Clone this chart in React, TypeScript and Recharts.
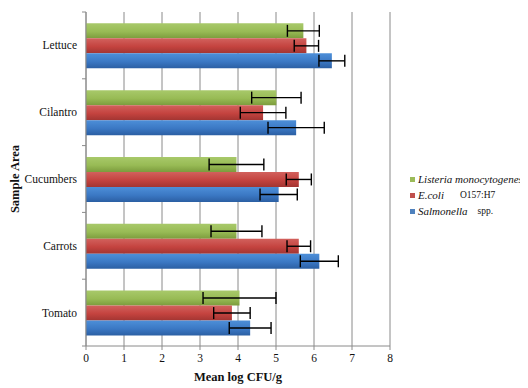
import React from 'react';
import { BarChart, Bar, XAxis, YAxis, CartesianGrid, ErrorBar, Legend } from 'recharts';

const categories = ['Lettuce', 'Cilantro', 'Cucumbers', 'Carrots', 'Tomato'];
const listeria = [5.72, 5.01, 3.96, 3.96, 4.04];
const listeriaErr = [0.42, 0.65, 0.72, 0.67, 0.96];
const ecoli = [5.8, 4.66, 5.6, 5.6, 3.84];
const ecoliErr = [0.32, 0.6, 0.33, 0.31, 0.48];
const salmonella = [6.47, 5.53, 5.07, 6.14, 4.32];
const salmonellaErr = [0.34, 0.74, 0.49, 0.5, 0.55];
const xTicks = [0, 1, 2, 3, 4, 5, 6, 7, 8];

const data = categories.map((c, i) => ({
  name: c,
  listeria: listeria[i],
  listeriaErr: listeriaErr[i],
  ecoli: ecoli[i],
  ecoliErr: ecoliErr[i],
  salmonella: salmonella[i],
  salmonellaErr: salmonellaErr[i],
}));

const FONT = 'Liberation Serif';
const GRAY = '#8a8a8a';

const YTick = (props: any) => {
  const { x, y, payload, index, visibleTicksCount } = props;
  const off = payload.offset || 0;
  const ax = x + 9;
  return (
    <g>
      <text x={x} y={y} dy="0.35em" textAnchor="end" style={{ fontFamily: FONT, fontSize: 11.5 }} fill="#111">
        {payload.value}
      </text>
      <line x1={ax - 4} x2={ax} y1={y - off} y2={y - off} stroke={GRAY} />
      {index === visibleTicksCount - 1 ? (
        <line x1={ax - 4} x2={ax} y1={y + off} y2={y + off} stroke={GRAY} />
      ) : null}
    </g>
  );
};

const LegendContent = () => {
  const row = (color: string, italic: string, rest: string, gap: number) => (
    <div style={{ display: 'flex', alignItems: 'center', height: 16, whiteSpace: 'nowrap' }}>
      <span style={{ width: 5, height: 5, background: color, display: 'inline-block', marginRight: 3 }} />
      <span style={{ fontStyle: 'italic', fontSize: 11 }}>{italic}</span>
      {rest ? <span style={{ fontSize: 9.5, marginLeft: gap }}>{rest}</span> : null}
    </div>
  );
  return (
    <div style={{ fontFamily: FONT, color: '#111' }}>
      {row('#9bbb59', 'Listeria monocytogenes', '', 0)}
      {row('#c0504d', 'E.coli', 'O157:H7', 16)}
      {row('#4f81bd', 'Salmonella', 'spp.', 10)}
    </div>
  );
};

export default function App() {
  return (
    <div style={{ width: 520, height: 380, fontFamily: FONT }}>
      <BarChart
        width={520}
        height={380}
        data={data}
        layout="vertical"
        margin={{ top: 4, right: 138, bottom: 0, left: 0 }}
        barCategoryGap="17%"
        barGap={0}
        style={{ fontFamily: FONT }}
      >
        <defs>
          <linearGradient id="gGreen" x1="0" y1="0" x2="0" y2="1">
            <stop offset="0%" stopColor="#a8c96a" />
            <stop offset="55%" stopColor="#98bb55" />
            <stop offset="100%" stopColor="#7c9c3d" />
          </linearGradient>
          <linearGradient id="gRed" x1="0" y1="0" x2="0" y2="1">
            <stop offset="0%" stopColor="#d2615d" />
            <stop offset="55%" stopColor="#c4433f" />
            <stop offset="100%" stopColor="#a23532" />
          </linearGradient>
          <linearGradient id="gBlue" x1="0" y1="0" x2="0" y2="1">
            <stop offset="0%" stopColor="#4d8fd8" />
            <stop offset="55%" stopColor="#3b78c4" />
            <stop offset="100%" stopColor="#2b5fa3" />
          </linearGradient>
        </defs>
        <CartesianGrid horizontal={false} stroke={GRAY} strokeWidth={1} />
        <XAxis
          type="number"
          domain={[0, 8]}
          ticks={xTicks}
          interval={0}
          axisLine={{ stroke: GRAY }}
          tickLine={{ stroke: GRAY }}
          tickSize={4}
          tickMargin={4}
          height={42}
          tick={{ fontFamily: FONT, fontSize: 11.5, fill: '#111' }}
          label={{
            value: 'Mean log CFU/g',
            position: 'insideBottom',
            offset: 7,
            style: { fontFamily: FONT, fontSize: 12.5, fontWeight: 'bold', fill: '#111' },
          }}
        />
        <YAxis
          type="category"
          dataKey="name"
          width={78}
          axisLine={{ stroke: GRAY }}
          tickLine={false}
          tickSize={0}
          tickMargin={9}
          tick={<YTick />}
          label={{
            value: 'Sample Area',
            angle: -90,
            position: 'insideLeft',
            offset: 7,
            textAnchor: 'middle',
            style: { fontFamily: FONT, fontSize: 12.5, fontWeight: 'bold', fill: '#111', textAnchor: 'middle' },
          }}
        />
        <Legend
          layout="vertical"
          align="center"
          verticalAlign="middle"
          wrapperStyle={{ left: 402, top: 163, width: 130 }}
          content={<LegendContent />}
        />
        <Bar dataKey="listeria" name="Listeria monocytogenes" fill="url(#gGreen)" isAnimationActive={false}>
          <ErrorBar dataKey="listeriaErr" direction="x" width={6} stroke="#000" strokeWidth={1.4} />
        </Bar>
        <Bar dataKey="ecoli" name="E.coli O157:H7" fill="url(#gRed)" isAnimationActive={false}>
          <ErrorBar dataKey="ecoliErr" direction="x" width={6} stroke="#000" strokeWidth={1.4} />
        </Bar>
        <Bar dataKey="salmonella" name="Salmonella spp." fill="url(#gBlue)" isAnimationActive={false}>
          <ErrorBar dataKey="salmonellaErr" direction="x" width={6} stroke="#000" strokeWidth={1.4} />
        </Bar>
      </BarChart>
    </div>
  );
}
